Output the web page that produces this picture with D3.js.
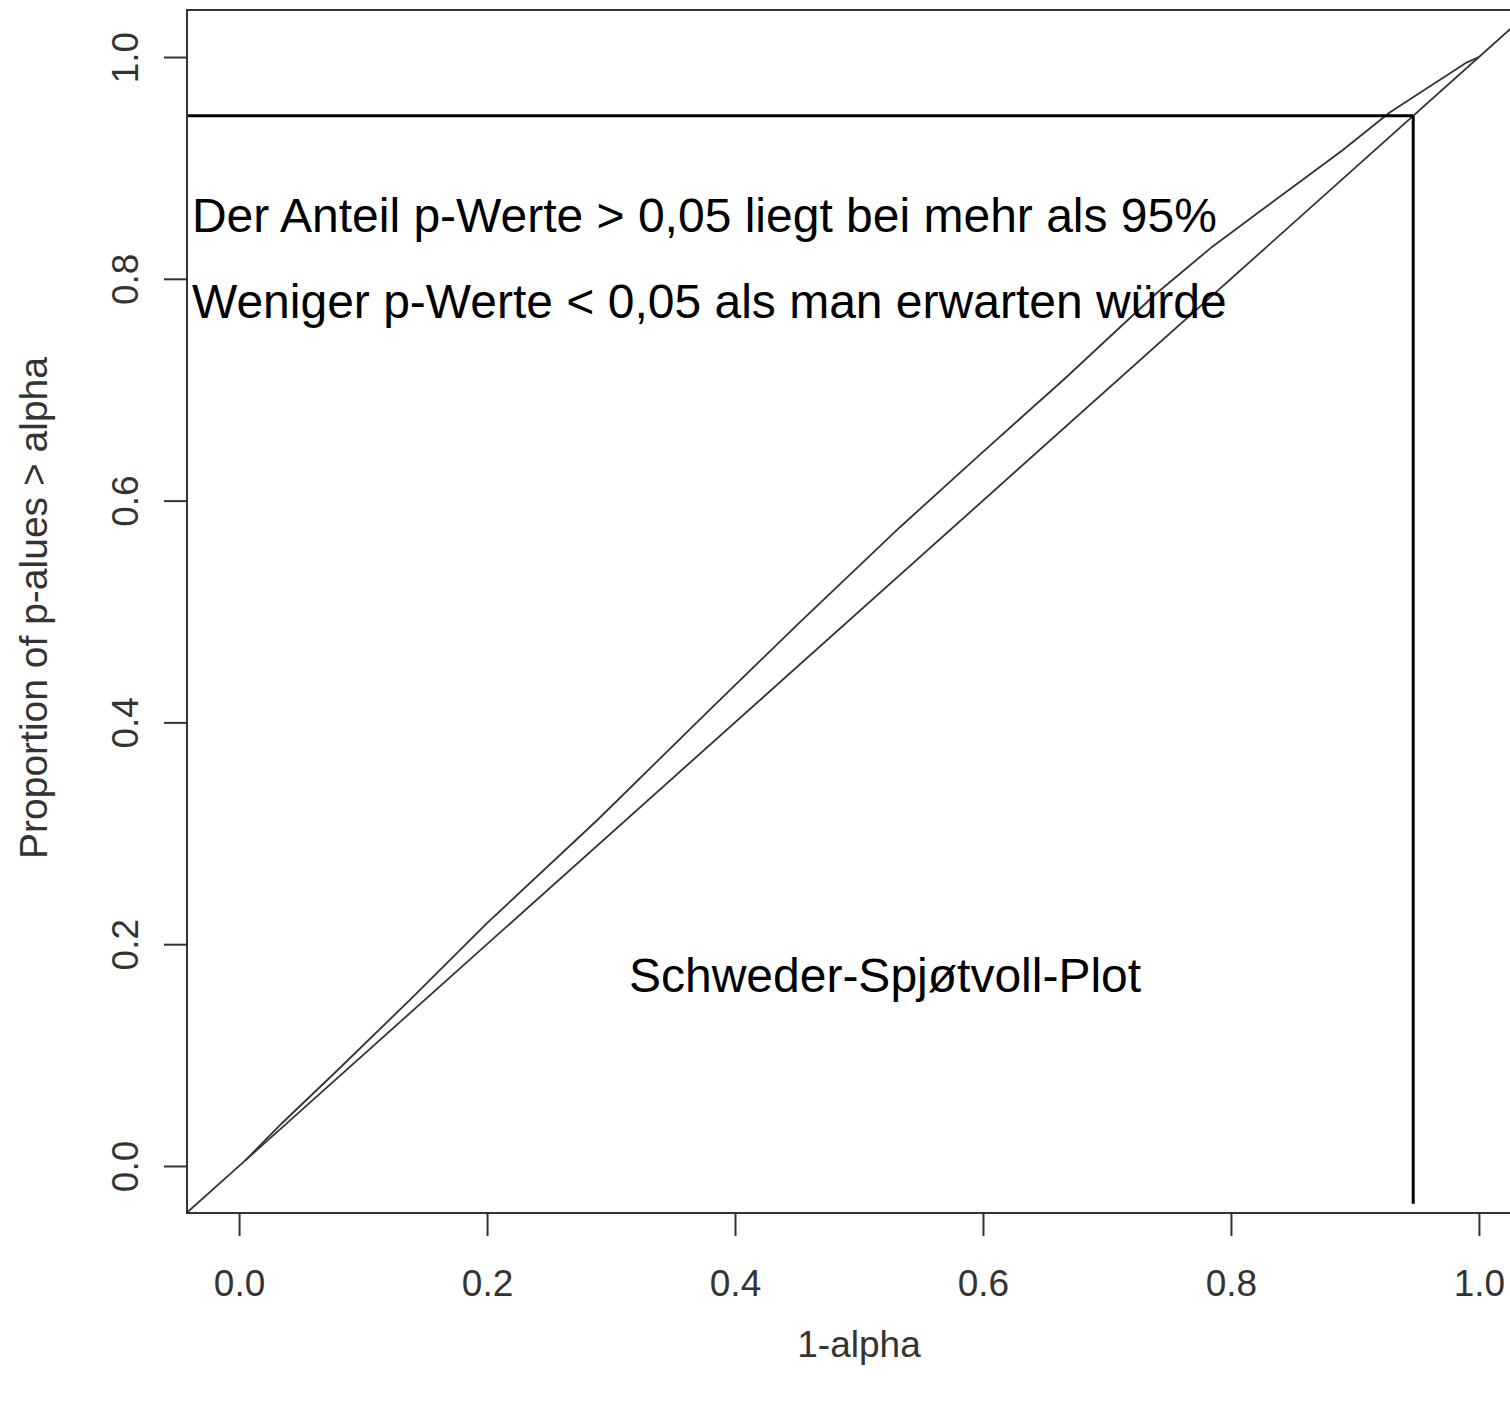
<!DOCTYPE html>
<html>
<head>
<meta charset="utf-8">
<script src="https://cdn.jsdelivr.net/npm/d3@7"></script>
<style>
  html, body { margin: 0; padding: 0; background: #fff; }
  text { font-family: "Liberation Sans", Arial, sans-serif; }
</style>
</head>
<body>
<svg id="chart" width="1510" height="1402"></svg>
<script>
// tick values
const xTicks = [0, 0.2, 0.4, 0.6, 0.8, 1.0];
const yTicks = [0, 0.2, 0.4, 0.6, 0.8, 1.0];

const oneMinusAlpha = [0.005, 0.035, 0.08, 0.138, 0.2, 0.289, 0.382, 0.452, 0.533, 0.6, 0.665, 0.74, 0.785, 0.89, 0.928, 0.99, 1.0];
const propAbove     = [0.005, 0.039, 0.087, 0.150, 0.219, 0.312, 0.414, 0.490, 0.576, 0.644, 0.709, 0.787, 0.829, 0.916, 0.950, 0.995, 1.0];

// where the guide lines sit (about 95%)
const cutoff = 0.947;

const svg = d3.select("#chart");

// plot region (box runs past the right edge of the picture)
const box = { left: 187, right: 1531, top: 10, bottom: 1213 };

const x = d3.scaleLinear().domain([-0.042, 1.042]).range([box.left, box.right]);
const y = d3.scaleLinear().domain([-0.0424, 1.0424]).range([box.bottom, box.top]);

svg.append("defs").append("clipPath").attr("id", "plotclip")
  .append("rect")
  .attr("x", box.left).attr("y", box.top)
  .attr("width", box.right - box.left).attr("height", box.bottom - box.top);

const plot = svg.append("g").attr("clip-path", "url(#plotclip)");

// reference line y = x
plot.append("line")
  .attr("x1", x(-0.042)).attr("y1", y(-0.042))
  .attr("x2", x(1.042)).attr("y2", y(1.042))
  .attr("stroke", "#333")
  .attr("stroke-width", 1.8);

// empirical curve
const pts = oneMinusAlpha.map((v, i) => [v, propAbove[i]]);
const line = d3.line()
  .x(d => x(d[0]))
  .y(d => y(d[1]));

plot.append("path")
  .datum(pts)
  .attr("fill", "none")
  .attr("stroke", "#333")
  .attr("stroke-width", 1.8)
  .attr("d", line);

// 95% guide lines
plot.append("line")
  .attr("x1", x(-0.042)).attr("y1", y(cutoff))
  .attr("x2", x(cutoff)).attr("y2", y(cutoff))
  .attr("stroke", "#000")
  .attr("stroke-width", 3);

plot.append("line")
  .attr("x1", x(cutoff)).attr("y1", y(cutoff))
  .attr("x2", x(cutoff)).attr("y2", y(-0.034))
  .attr("stroke", "#000")
  .attr("stroke-width", 3);

// frame
svg.append("rect")
  .attr("x", box.left).attr("y", box.top)
  .attr("width", box.right - box.left).attr("height", box.bottom - box.top)
  .attr("fill", "none")
  .attr("stroke", "#333")
  .attr("stroke-width", 2);

// axes
const fmt = d3.format(".1f");

const xAxis = d3.axisBottom(x)
  .tickValues(xTicks)
  .tickFormat(fmt)
  .tickSize(23)
  .tickPadding(34)
  .tickSizeOuter(0);

const gx = svg.append("g")
  .attr("transform", `translate(0,${box.bottom})`)
  .call(xAxis);
gx.select(".domain").remove();
gx.selectAll(".tick line").attr("stroke", "#333").attr("stroke-width", 2);
gx.selectAll(".tick text")
  .attr("fill", "#333")
  .style("font-size", "37px")
  .style("font-family", "'Liberation Sans', Arial, sans-serif");

const yAxis = d3.axisLeft(y)
  .tickValues(yTicks)
  .tickFormat(fmt)
  .tickSize(23)
  .tickSizeOuter(0);

const gy = svg.append("g")
  .attr("transform", `translate(${box.left},0)`)
  .call(yAxis);
gy.select(".domain").remove();
gy.selectAll(".tick line").attr("stroke", "#333").attr("stroke-width", 2);
gy.selectAll(".tick text")
  .attr("x", null).attr("dy", null)
  .attr("transform", "translate(-49,0) rotate(-90)")
  .attr("text-anchor", "middle")
  .attr("fill", "#333")
  .style("font-size", "37px")
  .style("font-family", "'Liberation Sans', Arial, sans-serif");

// axis titles
svg.append("text")
  .attr("x", (box.left + box.right) / 2)
  .attr("y", 1357)
  .attr("text-anchor", "middle")
  .attr("fill", "#333")
  .style("font-size", "37px")
  .text("1-alpha");

svg.append("text")
  .attr("transform", `translate(47,608) rotate(-90)`)
  .attr("text-anchor", "middle")
  .attr("fill", "#333")
  .style("font-size", "39px")
  .text("Proportion of p-alues > alpha");

// annotations
svg.append("text")
  .attr("x", x(-0.038)).attr("y", y(0.842))
  .attr("fill", "#000")
  .style("font-size", "48px")
  .text("Der Anteil p-Werte > 0,05 liegt bei mehr als 95%");

svg.append("text")
  .attr("x", x(-0.038)).attr("y", y(0.765))
  .attr("fill", "#000")
  .style("font-size", "48px")
  .text("Weniger p-Werte < 0,05 als man erwarten würde");

svg.append("text")
  .attr("x", x(0.521)).attr("y", y(0.1565))
  .attr("text-anchor", "middle")
  .attr("fill", "#000")
  .style("font-size", "48px")
  .text("Schweder-Spjøtvoll-Plot");
</script>
</body>
</html>
